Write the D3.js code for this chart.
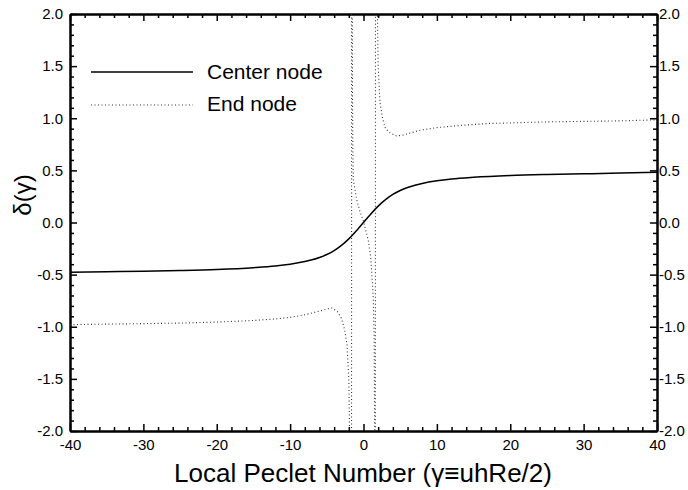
<!DOCTYPE html>
<html>
<head>
<meta charset="utf-8">
<script src="https://cdn.jsdelivr.net/npm/d3@7"></script>
<style>
  body { margin: 0; background: #fff; }
  text { font-family: "Liberation Sans", Arial, sans-serif; fill: #000; }
</style>
</head>
<body>
<svg class="chart"></svg>
<script>
// axis ticks
var xMajor = [-40, -30, -20, -10, 0, 10, 20, 30, 40];
var yMajor = [-2.0, -1.5, -1.0, -0.5, 0.0, 0.5, 1.0, 1.5, 2.0];

// center node curve
var centerX = [-40, -35, -30, -25, -20, -15, -12, -10, -8, -7, -6, -5, -4, -3, -2, -1, -0.5, 0,
               0.5, 1, 2, 3, 4, 5, 6, 7, 8, 10, 12, 15, 20, 25, 30, 35, 40];
var centerY = [-0.477, -0.472, -0.467, -0.46, -0.45, -0.433, -0.417, -0.40, -0.375, -0.358, -0.336, -0.307, -0.269, -0.219, -0.157, -0.082, -0.041, 0,
               0.041, 0.082, 0.157, 0.219, 0.269, 0.307, 0.336, 0.358, 0.375, 0.40, 0.417, 0.433, 0.45, 0.46, 0.467, 0.474, 0.483];

// end node curve (poles near +-1.6 are drawn straight through, as in the original)
var endX = [-40, -35, -30, -25, -20, -15, -12, -10, -8, -6, -5, -4.3, -3.6, -3.0, -2.6, -2.25, -2.0, -1.8, -1.65,
            -1.6, -1.55, -1.5, -1.45, -1.39, -0.93, -0.5, 0, 0.65, 0.98, 1.25, 1.34, 1.45, 1.55, 1.6,
            1.65, 1.8, 2.0, 2.25, 2.6, 3.0, 3.6, 4.5, 5.5, 7.7, 10, 13, 17, 20, 25, 30, 35, 40];
var endY = [-0.98, -0.975, -0.97, -0.965, -0.955, -0.94, -0.925, -0.91, -0.885, -0.85, -0.83, -0.82, -0.85, -0.92, -1.02, -1.17, -1.5, -2.5, -8,
            8, 2.5, 1.2, 0.7, 0.41, 0.22, 0.11, 0.01, -0.17, -0.33, -0.62, -0.74, -1.1, -2.5, -8,
            8, 2.5, 1.5, 1.15, 1.0, 0.9, 0.86, 0.83, 0.84, 0.885, 0.91, 0.93, 0.95, 0.955, 0.965, 0.97, 0.975, 0.985];

var seriesNames = ["Center node", "End node"];

var width = 688, height = 490;
var svg = d3.select(".chart").attr("width", width).attr("height", height);
svg.append("rect").attr("width", width).attr("height", height).attr("fill", "#fff");

var x = d3.scaleLinear().domain([-40, 40]).range([70, 657]);
var y = d3.scaleLinear().domain([-2, 2]).range([431, 14]);

var xMinor = d3.range(-40, 41, 2).filter(function (d) { return d % 10 !== 0; });
var yMinor = d3.range(-20, 21, 1).filter(function (d) { return d % 5 !== 0; }).map(function (d) { return d / 10; });

// plain hyphen for negatives, like the original print
var fmtX = function (d) { return String(d); };
var fmtY = function (d) { return d.toFixed(1); };

function styleAxis(g) {
    g.select(".domain").attr("stroke", "#000").attr("stroke-width", 2);
    g.selectAll(".tick line").attr("stroke", "#000").attr("stroke-width", 1.5);
    g.selectAll(".tick text").style("font-size", "15px");
}

// minor ticks first, then major with labels
svg.append("g").attr("transform", "translate(0,431)")
    .call(d3.axisBottom(x).tickValues(xMinor).tickSize(-4).tickSizeOuter(0).tickFormat(""))
    .call(styleAxis);
svg.append("g").attr("transform", "translate(0,14)")
    .call(d3.axisTop(x).tickValues(xMinor).tickSize(-4).tickSizeOuter(0).tickFormat(""))
    .call(styleAxis);
svg.append("g").attr("transform", "translate(70,0)")
    .call(d3.axisLeft(y).tickValues(yMinor).tickSize(-4).tickSizeOuter(0).tickFormat(""))
    .call(styleAxis);
svg.append("g").attr("transform", "translate(657,0)")
    .call(d3.axisRight(y).tickValues(yMinor).tickSize(-4).tickSizeOuter(0).tickFormat(""))
    .call(styleAxis);

svg.append("g").attr("transform", "translate(0,431)")
    .call(d3.axisBottom(x).tickValues(xMajor).tickSize(-7).tickSizeOuter(0).tickPadding(8).tickFormat(fmtX))
    .call(styleAxis);
svg.append("g").attr("transform", "translate(0,14)")
    .call(d3.axisTop(x).tickValues(xMajor).tickSize(-7).tickSizeOuter(0).tickFormat(""))
    .call(styleAxis);
svg.append("g").attr("transform", "translate(70,0)")
    .call(d3.axisLeft(y).tickValues(yMajor).tickSize(-7).tickSizeOuter(0).tickPadding(7).tickFormat(fmtY))
    .call(styleAxis);
svg.append("g").attr("transform", "translate(657,0)")
    .call(d3.axisRight(y).tickValues(yMajor).tickSize(-7).tickSizeOuter(0).tickPadding(2).tickFormat(fmtY))
    .call(styleAxis);

// curves
svg.append("clipPath").attr("id", "plot")
    .append("rect").attr("x", 70).attr("y", 14).attr("width", 587).attr("height", 417);

var line = d3.line()
    .x(function (d) { return x(d[0]); })
    .y(function (d) { return y(d[1]); });
var centerLine = d3.line()
    .curve(d3.curveMonotoneX)
    .x(function (d) { return x(d[0]); })
    .y(function (d) { return y(d[1]); });

svg.append("path")
    .datum(d3.zip(centerX, centerY))
    .attr("clip-path", "url(#plot)")
    .attr("fill", "none").attr("stroke", "#000").attr("stroke-width", 1.5)
    .attr("d", centerLine);

svg.append("path")
    .datum(d3.zip(endX, endY))
    .attr("clip-path", "url(#plot)")
    .attr("fill", "none").attr("stroke", "#333").attr("stroke-width", 1.1)
    .attr("stroke-dasharray", "1,2.5")
    .attr("d", line);

// legend
var legend = svg.append("g");
legend.append("line").attr("x1", 91).attr("x2", 193).attr("y1", 72).attr("y2", 72)
    .attr("stroke", "#000").attr("stroke-width", 1.5);
legend.append("line").attr("x1", 91).attr("x2", 193).attr("y1", 105).attr("y2", 105)
    .attr("stroke", "#333").attr("stroke-width", 1.1).attr("stroke-dasharray", "1,2.5");
legend.append("text").attr("x", 207).attr("y", 79).style("font-size", "21px").text(seriesNames[0]);
legend.append("text").attr("x", 207).attr("y", 111).style("font-size", "21px").text(seriesNames[1]);

// axis titles
svg.append("text")
    .attr("x", 363).attr("y", 482)
    .attr("text-anchor", "middle")
    .style("font-size", "26px")
    .text("Local Peclet Number (γ≡uhRe/2)");

svg.append("text")
    .attr("transform", "translate(31,195) rotate(-90)")
    .attr("text-anchor", "middle")
    .style("font-size", "24px")
    .text("δ(γ)");
</script>
</body>
</html>
